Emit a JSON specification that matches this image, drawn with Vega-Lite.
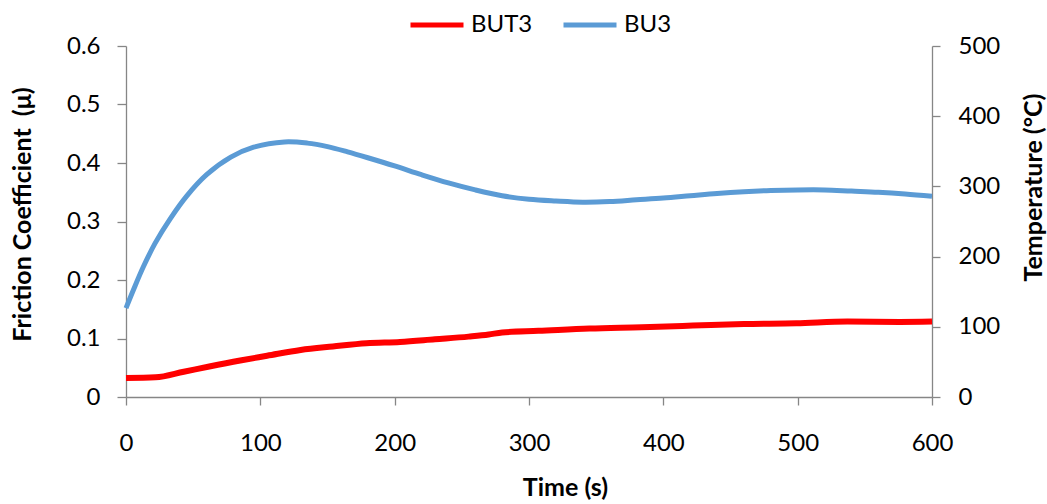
{
  "$schema": "https://vega.github.io/schema/vega-lite/v6.json",
  "width": 806,
  "height": 351,
  "autosize": {"type": "none"},
  "padding": {"left": 126, "top": 46, "right": 115, "bottom": 107},
  "background": "white",
  "config": {
    "view": {"stroke": null},
    "font": "Lato",
    "axis": {
      "grid": false,
      "labelFlush": false,
      "domainColor": "#868686",
      "tickColor": "#868686",
      "domainWidth": 1.3,
      "tickWidth": 1.3,
      "labelColor": "#000000",
      "labelFontSize": 24,
      "labelFont": "Lato",
      "titleFont": "Lato",
      "titleFontSize": 25,
      "titleFontWeight": "bold",
      "titleColor": "#000000"
    }
  },
  "datasets": {
    "bu3": [
      {"t": 0, "mu": 0.152}, {"t": 5.5, "mu": 0.183}, {"t": 13, "mu": 0.223},
      {"t": 21.7, "mu": 0.263}, {"t": 33, "mu": 0.305}, {"t": 45, "mu": 0.343},
      {"t": 60, "mu": 0.38}, {"t": 78, "mu": 0.41}, {"t": 95, "mu": 0.427},
      {"t": 118, "mu": 0.436}, {"t": 135, "mu": 0.434}, {"t": 150, "mu": 0.428},
      {"t": 165, "mu": 0.419}, {"t": 180, "mu": 0.409}, {"t": 200, "mu": 0.395},
      {"t": 220, "mu": 0.38}, {"t": 240, "mu": 0.366}, {"t": 260, "mu": 0.354},
      {"t": 280, "mu": 0.344}, {"t": 300, "mu": 0.338}, {"t": 320, "mu": 0.335},
      {"t": 340, "mu": 0.333}, {"t": 360, "mu": 0.334}, {"t": 380, "mu": 0.337},
      {"t": 400, "mu": 0.34}, {"t": 420, "mu": 0.344}, {"t": 440, "mu": 0.348},
      {"t": 460, "mu": 0.351}, {"t": 480, "mu": 0.353}, {"t": 500, "mu": 0.354},
      {"t": 520, "mu": 0.354}, {"t": 540, "mu": 0.352}, {"t": 560, "mu": 0.35},
      {"t": 580, "mu": 0.347}, {"t": 600, "mu": 0.343}
    ],
    "but3": [
      {"t": 0, "temp": 27}, {"t": 22, "temp": 28}, {"t": 43, "temp": 36},
      {"t": 62, "temp": 43.5}, {"t": 85, "temp": 52}, {"t": 105, "temp": 58.7},
      {"t": 130, "temp": 67}, {"t": 154, "temp": 72}, {"t": 179, "temp": 76.7},
      {"t": 204, "temp": 78.5}, {"t": 230, "temp": 82.3}, {"t": 255, "temp": 86},
      {"t": 270, "temp": 89}, {"t": 280, "temp": 92}, {"t": 307, "temp": 94.2},
      {"t": 345, "temp": 97.5}, {"t": 384, "temp": 99.4}, {"t": 422, "temp": 101.7},
      {"t": 460, "temp": 104}, {"t": 499, "temp": 105}, {"t": 537, "temp": 107.5},
      {"t": 576, "temp": 107}, {"t": 600, "temp": 107.5}
    ]
  },
  "layer": [
    {
      "data": {"name": "bu3"},
      "mark": {"type": "line", "strokeWidth": 5, "interpolate": "catmull-rom"},
      "encoding": {
        "x": {
          "field": "t", "type": "quantitative",
          "scale": {"domain": [0, 600], "nice": false},
          "axis": {
            "values": [0, 100, 200, 300, 400, 500, 600],
            "tickSize": 8, "labelPadding": 26,
            "title": "Time (s)",
            "titleX": 439, "titleY": 90,
            "titleBaseline": "middle", "titleAlign": "center"
          }
        },
        "y": {
          "field": "mu", "type": "quantitative",
          "scale": {"domain": [0, 0.6], "nice": false, "zero": true},
          "axis": {
            "orient": "left",
            "values": [0, 0.1, 0.2, 0.3, 0.4, 0.5, 0.6],
            "format": ".1~f",
            "tickSize": 9, "labelPadding": 17,
            "title": "Friction Coefficient \u00a0(μ)",
            "titleAngle": -90,
            "titleX": -104, "titleY": 168,
            "titleBaseline": "middle", "titleAlign": "center"
          }
        },
        "color": {
          "datum": "BU3",
          "type": "nominal",
          "scale": {"domain": ["BUT3", "BU3"], "range": ["#FF0000", "#5B9BD5"]},
          "legend": {
            "title": null,
            "orient": "none",
            "direction": "horizontal",
            "legendX": 282,
            "legendY": -50,
            "symbolType": "stroke",
            "symbolSize": 2809,
            "symbolStrokeWidth": 5,
            "labelFontSize": 24,
            "labelFont": "Lato",
            "labelColor": "#000000",
            "labelOffset": 5,
            "columnPadding": 20,
            "padding": 0
          }
        }
      }
    },
    {
      "data": {"name": "but3"},
      "mark": {"type": "line", "strokeWidth": 6, "interpolate": "monotone"},
      "encoding": {
        "x": {"field": "t", "type": "quantitative"},
        "y": {
          "field": "temp", "type": "quantitative",
          "scale": {"domain": [0, 500], "nice": false, "zero": true},
          "axis": {
            "orient": "right",
            "values": [0, 100, 200, 300, 400, 500],
            "tickSize": 8, "labelPadding": 18,
            "title": "Temperature (°C)",
            "titleAngle": -90,
            "titleX": 101, "titleY": 141,
            "titleBaseline": "middle", "titleAlign": "center"
          }
        },
        "color": {"datum": "BUT3", "type": "nominal"}
      }
    }
  ],
  "resolve": {"scale": {"y": "independent"}}
}
